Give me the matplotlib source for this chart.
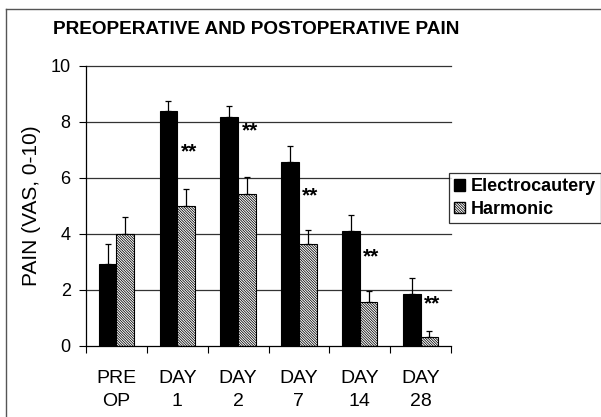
import matplotlib
matplotlib.use("Agg")
import matplotlib.pyplot as plt
import numpy as np
from matplotlib.patches import Patch
from matplotlib.lines import Line2D

plt.rcParams['font.family'] = ['Liberation Sans', 'DejaVu Sans']
plt.rcParams['hatch.linewidth'] = 0.55

categories = ["PRE\nOP", "DAY\n1", "DAY\n2", "DAY\n7", "DAY\n14", "DAY\n28"]
electro = [2.93, 8.39, 8.17, 6.56, 4.10, 1.86]
electro_err = [0.70, 0.36, 0.40, 0.60, 0.57, 0.57]
harmonic = [4.00, 5.00, 5.44, 3.65, 1.56, 0.32]
harmonic_err = [0.62, 0.60, 0.58, 0.50, 0.40, 0.20]
sig_marks = ["", "**", "**", "**", "**", "**"]
sig_y = [0, 6.95, 7.7, 5.37, 3.2, 1.51]

HATCH = '\\' * 13

fig = plt.figure(figsize=(6.01, 4.17), dpi=100)
ax = fig.add_axes([86/601, 1-346/417, 365/601, 280/417])

x = np.arange(len(categories))
w = 0.29
ax.bar(x - w/2, electro, w, color='black', edgecolor='black', linewidth=0.8, zorder=2,
       label='Electrocautery')
ax.bar(x + w/2, harmonic, w, color='white', edgecolor='black', linewidth=0.8,
       hatch=HATCH, zorder=2, label='Harmonic')
ax.errorbar(x - w/2, electro, yerr=[np.zeros(len(x)), electro_err], fmt='none',
            ecolor='black', elinewidth=0.9, capsize=2.2, capthick=0.9, zorder=3)
ax.errorbar(x + w/2, harmonic, yerr=[np.zeros(len(x)), harmonic_err], fmt='none',
            ecolor='black', elinewidth=0.9, capsize=2.2, capthick=0.9, zorder=3)

for xi, m, yi in zip(x, sig_marks, sig_y):
    if m:
        ax.text(xi + 0.19, yi, m, ha='center', va='center', fontsize=15,
                fontweight='bold', zorder=4)

for g in [2, 4, 6, 8, 10]:
    ax.axhline(g, color='#333333', lw=0.9, zorder=1, clip_on=False)

ax.set_xlim(-0.5, 5.5)
ax.set_ylim(0, 10)
ax.set_yticks([0, 2, 4, 6, 8, 10])
ax.set_yticklabels(['0', '2', '4', '6', '8', '10'])
ax.tick_params(axis='y', labelsize=13, length=5, width=0.8, pad=6, direction='out')
ax.set_xticks(x)
ax.set_xticklabels(categories, linespacing=1.5)
ax.set_xticks(np.arange(-0.5, 6, 1), minor=True)
ax.tick_params(axis='x', which='major', length=0, labelsize=14, pad=17)
ax.tick_params(axis='x', which='minor', length=5, width=0.8, direction='out')
for s in ['top', 'right']:
    ax.spines[s].set_visible(False)
ax.spines['left'].set_linewidth(0.9)
ax.spines['bottom'].set_linewidth(0.9)
ax.set_ylabel('PAIN (VAS, 0-10)', fontsize=15, labelpad=7)

fig.text(256/601, 1-30/417, 'PREOPERATIVE AND POSTOPERATIVE PAIN', ha='center',
         va='center', fontsize=13.7, fontweight='bold')

handles = [Patch(facecolor='black', edgecolor='black'),
           Patch(facecolor='white', edgecolor='black', hatch=HATCH)]
leg = fig.legend(handles, ['Electrocautery', 'Harmonic'], loc='upper left',
                 bbox_to_anchor=(449/601, 1-173/417), frameon=True, fancybox=False,
                 edgecolor='black', prop={'weight': 'bold', 'size': 13},
                 handlelength=0.6, handleheight=0.6, handletextpad=0.3,
                 borderpad=0.3, labelspacing=0.3, borderaxespad=0)
leg.get_frame().set_linewidth(0.9)

fig.add_artist(Line2D([6/601, 6/601], [0, 1-9/417], color='#555555', lw=1))
fig.add_artist(Line2D([6/601, 1], [1-9/417, 1-9/417], color='#555555', lw=1))

fig.savefig('out.png', dpi=100)
